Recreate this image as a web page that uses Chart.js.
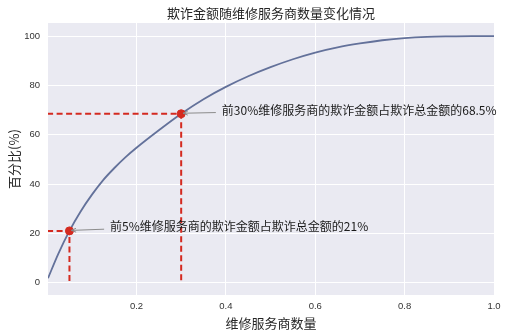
<!DOCTYPE html>
<html><head><meta charset="utf-8">
<script src="https://cdn.jsdelivr.net/npm/chart.js@4/dist/chart.umd.min.js"></script>
<style>html,body{margin:0;padding:0;background:#fff}#wrap{width:508px;height:335px}</style>
</head><body><div id="wrap"><canvas id="c" width="508" height="335"></canvas></div>
<script>
const curveX = [0.002, 0.025, 0.05, 0.075, 0.1, 0.125, 0.15, 0.175, 0.2, 0.25, 0.3, 0.35, 0.4, 0.45, 0.5, 0.55, 0.6, 0.65, 0.7, 0.75, 0.8, 0.85, 0.9, 0.95, 1.0];
const curveY = [1.8, 11.7, 21, 28.9, 35.6, 41.5, 46.4, 50.8, 54.7, 61.8, 68.5, 74.4, 79.4, 83.7, 87.4, 90.6, 93.3, 95.4, 97.0, 98.3, 99.2, 99.7, 99.9, 100, 100];
const highlightX = [0.05, 0.3];
const highlightY = [21, 68.5];
const annotationText = ['前5%维修服务商的欺诈金额占欺诈总金额的21%', '前30%维修服务商的欺诈金额占欺诈总金额的68.5%'];
const annotationX = [0.141, 0.391];
const annotationY = [22.7, 70.0];
const xTicks = [0.2, 0.4, 0.6, 0.8, 1.0];
const yTicks = [0, 20, 40, 60, 80, 100];
const titleText = '欺诈金额随维修服务商数量变化情况';
const xLabel = '维修服务商数量';
const yLabel = '百分比(%)';

const RED = '#d42a20';
const CJK = '"Noto Sans CJK SC", "DejaVu Sans", sans-serif';
const TICKF = '"Liberation Sans", Arial, sans-serif';

const curve = curveX.map((x, i) => ({x, y: curveY[i]}));
const guideSets = highlightX.map((hx, i) => ({
  type: 'scatter', showLine: true, borderColor: RED, borderWidth: 2, borderDash: [6, 3.5],
  pointRadius: 0, fill: false, tension: 0, order: 1,
  data: [{x: 0, y: highlightY[i]}, {x: hx, y: highlightY[i]}, {x: hx, y: 0}]
}));

const deco = {
  id: 'deco',
  beforeDraw(chart) {
    const {ctx, chartArea: a} = chart;
    ctx.save();
    ctx.fillStyle = '#EAEAF2';
    ctx.fillRect(a.left, a.top, a.right - a.left, a.bottom - a.top);
    ctx.restore();
  },
  afterDraw(chart) {
    const {ctx, chartArea: a, scales: {x, y}} = chart;
    ctx.save();
    ctx.fillStyle = '#262626';
    ctx.font = '13px ' + CJK;
    ctx.textAlign = 'center';
    ctx.textBaseline = 'middle';
    ctx.fillText(titleText, (a.left + a.right) / 2, 13);
    annotationText.forEach((t, i) => {
      const tx = x.getPixelForValue(annotationX[i]);
      const ty = y.getPixelForValue(annotationY[i]);
      const px = x.getPixelForValue(highlightX[i]);
      const py = y.getPixelForValue(highlightY[i]);
      ctx.font = '12px ' + CJK;
      ctx.textAlign = 'left';
      ctx.fillStyle = '#1a1a1a';
      ctx.fillText(t, tx, ty);
      const sx = tx - 6, sy = ty + 2.5;
      const ex = px + 2, ey = py - 0.5;
      ctx.strokeStyle = '#8c8c8c';
      ctx.lineWidth = 1;
      ctx.beginPath(); ctx.moveTo(sx, sy); ctx.lineTo(ex, ey); ctx.stroke();
      const ang = Math.atan2(ey - sy, ex - sx);
      ctx.beginPath();
      ctx.moveTo(ex - 5 * Math.cos(ang - 0.4), ey - 5 * Math.sin(ang - 0.4));
      ctx.lineTo(ex, ey);
      ctx.lineTo(ex - 5 * Math.cos(ang + 0.4), ey - 5 * Math.sin(ang + 0.4));
      ctx.stroke();
    });
    ctx.restore();
  }
};

new Chart(document.getElementById('c'), {
  type: 'scatter',
  data: {
    datasets: [
      {type: 'scatter', showLine: true, data: curve, borderColor: '#63719a', borderWidth: 1.8,
       pointRadius: 0, cubicInterpolationMode: 'monotone', fill: false, order: 2},
      ...guideSets,
      {type: 'scatter', data: highlightX.map((hx, i) => ({x: hx, y: highlightY[i]})),
       backgroundColor: RED, borderColor: RED, pointRadius: 4, pointHoverRadius: 4, order: 0}
    ]
  },
  options: {
    responsive: false, animation: false, devicePixelRatio: 1,
    layout: {padding: {top: 23, right: 14, left: 0, bottom: 0}},
    plugins: {legend: {display: false}, tooltip: {enabled: false}, title: {display: false}},
    scales: {
      x: {
        type: 'linear', min: 0.002, max: 1.0,
        afterBuildTicks: s => { s.ticks = xTicks.map(v => ({value: v})); },
        afterFit: s => { s.height = 40; },
        grid: {color: '#ffffff', lineWidth: 1, drawTicks: false},
        border: {display: false},
        ticks: {padding: 6, color: '#333', font: {size: 9.5, family: TICKF}, maxRotation: 0,
                callback: v => v.toFixed(1)},
        title: {display: true, text: xLabel, color: '#262626', font: {size: 13, family: CJK}, padding: {top: 0, bottom: 4}}
      },
      y: {
        type: 'linear', min: -5, max: 105.3,
        afterBuildTicks: s => { s.ticks = yTicks.map(v => ({value: v})); },
        afterFit: s => { s.width = 48; },
        grid: {color: '#ffffff', lineWidth: 1, drawTicks: false},
        border: {display: false},
        ticks: {padding: 8, color: '#333', font: {size: 9.5, family: TICKF}, callback: v => String(v)},
        title: {display: true, text: yLabel, color: '#262626', font: {size: 13, family: CJK}, padding: {top: 6, bottom: 0}}
      }
    }
  },
  plugins: [deco]
});
</script></body></html>
